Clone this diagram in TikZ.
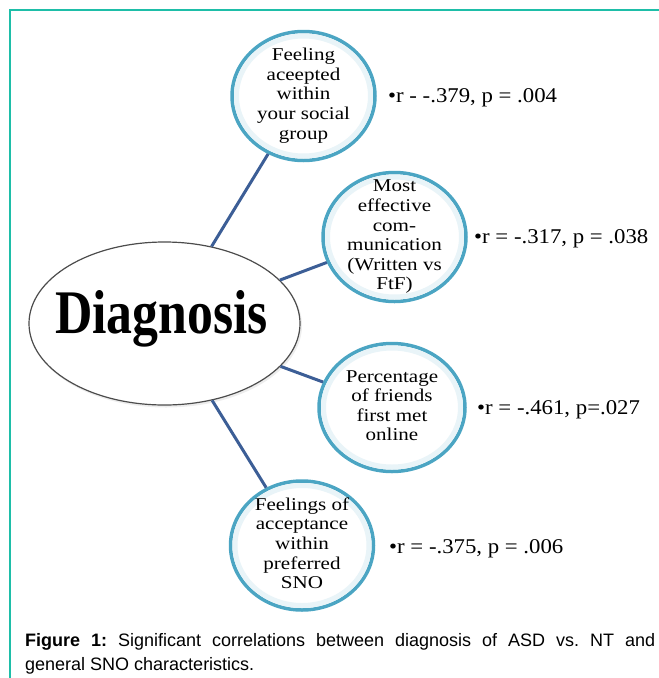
\documentclass[tikz,border=0pt]{standalone}
\usepackage{fontspec}
\setmainfont{Liberation Serif}
\setsansfont{Liberation Sans}
\usepackage{graphicx}
\usetikzlibrary{shapes.geometric}
\definecolor{framec}{RGB}{30,190,168}
\definecolor{bubc}{RGB}{75,165,195}
\definecolor{connc}{RGB}{60,94,150}
\newcommand{\bubtext}[1]{\scalebox{1.17}[1]{\fontsize{18}{19.6}\selectfont\begin{tabular}{@{}c@{}}#1\end{tabular}}}
\newcommand{\corrtext}[1]{\scalebox{1.085}[1]{\fontsize{21}{24}\selectfont #1}}
\frenchspacing
\begin{document}
\begin{tikzpicture}[x=1pt,y=-1pt,
  bubble/.style={ellipse, draw=bubc, line width=3.5pt, fill=white, minimum width=143pt, minimum height=129pt, inner sep=0pt},
  glow/.style={ellipse, draw=bubc!12, line width=5pt, minimum width=134pt, minimum height=120pt, inner sep=0pt},
  bubtxt/.style={inner sep=0pt, text=black},
  conn/.style={draw=connc, line width=3pt},
  corrlabel/.style={anchor=west, inner sep=0pt},
  framel/.style={draw=framec, line width=1.5pt},
  captxt/.style={anchor=base west, inner sep=0pt, font=\sffamily\fontsize{18}{24}\selectfont}]
\useasboundingbox (0,0) rectangle (659,678);
\draw[framel] (10,678) -- (10,10) -- (659,10);
\node[ellipse, fill=black!7, minimum width=272pt, minimum height=164pt] (diagshadow) at (166,325.5) {};
\node[ellipse, draw=black!70, line width=1.2pt, fill=white, minimum width=271pt, minimum height=163pt, inner sep=0pt] (diag) at (164.5,323.5) {};
\node[anchor=base, inner sep=0pt] (diagtext) at (161.5,333) {\scalebox{0.835}[1]{\fontsize{62}{62}\selectfont\bfseries Diagnosis}};
\node[bubble] (c1) at (303.5,96) {};
\node[bubble] (c2) at (394.5,237) {};
\node[bubble, minimum width=146pt, minimum height=128pt] (c3) at (392,407.5) {};
\node[bubble] (c4) at (302,545.5) {};
\foreach \c in {c1,c2,c4} \node[glow] at (\c) {};
\node[glow, minimum width=137pt, minimum height=119pt] at (c3) {};
\node[bubtxt] (t1) at (c1) {\bubtext{Feeling\\aceepted\\within\\your social\\group}};
\node[bubtxt] (t2) at (c2) {\bubtext{Most\\effective\\com-\\munication\\(Written vs\\FtF)}};
\node[bubtxt] (t3) at (c3) {\bubtext{Percentage\\of friends\\first met\\online}};
\node[bubtxt] (t4) at (c4) {\bubtext{Feelings of\\acceptance\\within\\preferred\\SNO}};
\draw[conn] (diag) -- (c1);
\draw[conn] (diag) -- (c2);
\draw[conn] (diag) -- (c3);
\draw[conn] (diag) -- (c4);
\node[corrlabel] (l1) at (388,97.5) {\corrtext{•r - -.379, p = .004}};
\node[corrlabel] (l2) at (474,239) {\corrtext{•r = -.317, p = .038}};
\node[corrlabel] (l3) at (477,410) {\corrtext{•r = -.461, p=.027}};
\node[corrlabel] (l4) at (389,549) {\corrtext{•r = -.375, p = .006}};
\node[captxt] (cap1) at (25,646) {\hbox to 630pt{\textbf{Figure 1:} Significant correlations between diagnosis of ASD vs. NT and}};
\node[captxt] (cap2) at (25,670) {general SNO characteristics.};
\end{tikzpicture}
\end{document}
